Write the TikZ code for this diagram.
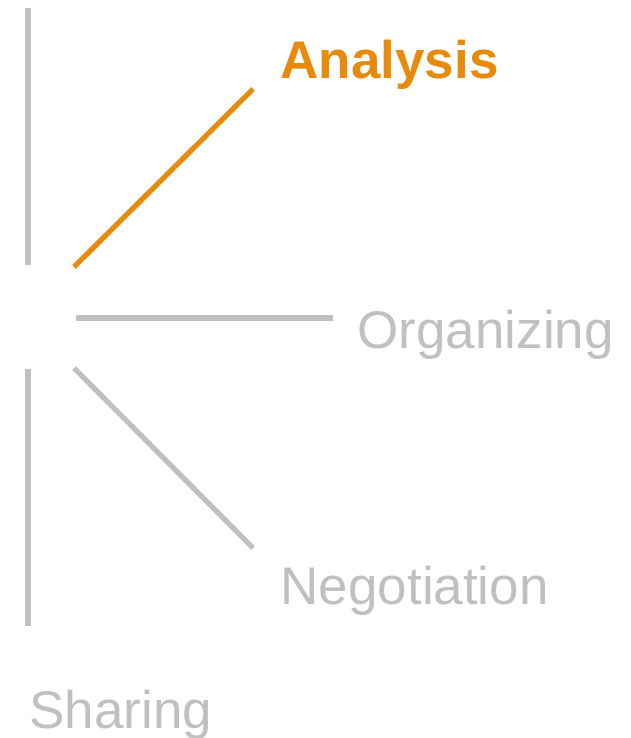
\documentclass[tikz,border=0pt]{standalone}
\usepackage{fontspec}
\setmainfont{Liberation Sans}
\usepackage{tikz}
\usetikzlibrary{positioning}

\definecolor{stagegray}{RGB}{192,192,192}
\definecolor{stageorange}{RGB}{232,138,12}

\begin{document}
\begin{tikzpicture}[x=0.75pt,y=-0.75pt,line width=3.9pt]
				% Define styles for the strokes and the labels.
				\tikzset{
					stroke/.style={color=stagegray},
					active/.style={color=stageorange},
					label/.style={anchor=base west,inner sep=0pt,color=stagegray,font=\fontsize{39.75}{46}\selectfont},
				}
				\useasboundingbox (0,0) rectangle (631,738);
				
				% Define coordinates.
				\coordinate (bartop) at (28,8);
				\coordinate (barmid) at (28,265);
				\coordinate (barlow) at (28,369);
				\coordinate (barend) at (28,626);
				\coordinate (ana0) at (74,267);
				\coordinate (ana1) at (253,89);
				\coordinate (org0) at (76,318);
				\coordinate (org1) at (333,318);
				\coordinate (neg0) at (74,368);
				\coordinate (neg1) at (253,548);
				
				% Left bars.
				\draw[stroke] (bartop) -- (barmid);
				\draw[stroke] (barlow) -- (barend);
				
				% ANALYSIS
				\draw[active] (ana0) -- (ana1);
				\node[label,text=stageorange,font=\fontsize{39.75}{46}\selectfont\bfseries] (analysis) at (278,79) {Analysis};
				
				% ORGANIZING
				\draw[stroke] (org0) -- (org1);
				\node[label] (organizing) at (355,348) {Organizing};
				
				% NEGOTIATION
				\draw[stroke] (neg0) -- (neg1);
				\node[label] (negotiation) at (278,604) {Negotiation};
				
				% SHARING
				\node[label] (sharing) at (27,728) {Sharing};
				
\end{tikzpicture}
\end{document}
